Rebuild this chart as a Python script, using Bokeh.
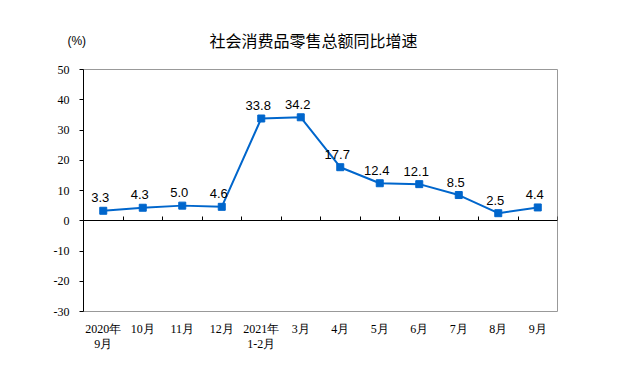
from bokeh.plotting import figure
from bokeh.models import Range1d, LinearAxis, FixedTicker, Label, ColumnDataSource, CustomJSTickFormatter
from bokeh.core.properties import value
from bokeh.embed import file_html
from bokeh.resources import INLINE

categories = ["2020年\n9月", "10月", "11月", "12月", "2021年\n1-2月", "3月",
              "4月", "5月", "6月", "7月", "8月", "9月"]
growth = [3.3, 4.3, 5.0, 4.6, 33.8, 34.2, 17.7, 12.4, 12.1, 8.5, 2.5, 4.4]
y_ticks = [-30, -20, -10, 0, 10, 20, 30, 40, 50]
title_text = "社会消费品零售总额同比增速"
unit_text = "(%)"

xs = [i + 0.5 for i in range(len(categories))]
src = ColumnDataSource(dict(x=xs, y=growth, lab=[f"{v:.1f}" for v in growth]))

p = figure(width=606, height=376, output_backend="svg", toolbar_location=None,
           x_range=Range1d(0, len(categories)), y_range=Range1d(-30, 50),
           min_border_left=83, min_border_right=49, min_border_top=69, min_border_bottom=65)
p.grid.visible = False
p.outline_line_color = "#999999"
p.outline_line_width = 1
p.background_fill_color = "white"
p.border_fill_color = "white"

p.title.text = title_text
p.title.align = "left"
p.title.offset = 126
p.title.standoff = 7
p.title.text_font = "Noto Sans CJK SC"
p.title.text_font_size = "16px"
p.title.text_font_style = "normal"
p.title.text_color = "black"

# y axis
ya = p.yaxis[0]
ya.ticker = FixedTicker(ticks=y_ticks)
ya.major_label_overrides = {v: str(v) for v in y_ticks}
ya.major_tick_out = 4
ya.major_tick_in = 0
ya.minor_tick_line_color = None
ya.axis_line_color = "black"
ya.major_tick_line_color = "black"
ya.major_label_text_font = "Liberation Serif"
ya.major_label_text_font_size = "12px"
ya.major_label_text_color = "black"
ya.major_label_standoff = 10

# zero-line axis with boundary ticks
xa = p.xaxis[0]
xa.ticker = FixedTicker(ticks=list(range(len(categories) + 1)))
xa.fixed_location = 0
xa.formatter = CustomJSTickFormatter(code="return ''")
xa.major_tick_in = 4
xa.major_tick_out = 0
xa.minor_tick_line_color = None
xa.axis_line_color = "black"
xa.major_tick_line_color = "black"

# category label axis
la = LinearAxis(ticker=FixedTicker(ticks=xs),
                major_label_overrides={x: c for x, c in zip(xs, categories)})
la.axis_line_color = None
la.major_tick_line_color = None
la.minor_tick_line_color = None
la.major_label_text_font = "Liberation Serif"
la.major_label_text_font_size = "12px"
la.major_label_text_line_height = 1.1
la.major_label_text_color = "black"
la.major_label_standoff = 4
p.add_layout(la, "below")

p.line("x", "y", source=src, line_color="#0066CC", line_width=2)
p.scatter("x", "y", source=src, marker="square", size=7,
          fill_color="#0066CC", line_color="#0066CC")
p.text("x", "y", text="lab", source=src, text_align="center", text_baseline="middle",
       x_offset=-3, y_offset=-13, text_font_size="13px", text_font=value("Liberation Sans"),
       text_color="black")

p.add_layout(Label(x=-0.17, y=59.5, text=unit_text, text_align="center",
                   text_baseline="middle", text_font_size="12px",
                   text_font="Liberation Sans", text_color="black"), "above")

open("out.html", "w").write(file_html(p, INLINE))
